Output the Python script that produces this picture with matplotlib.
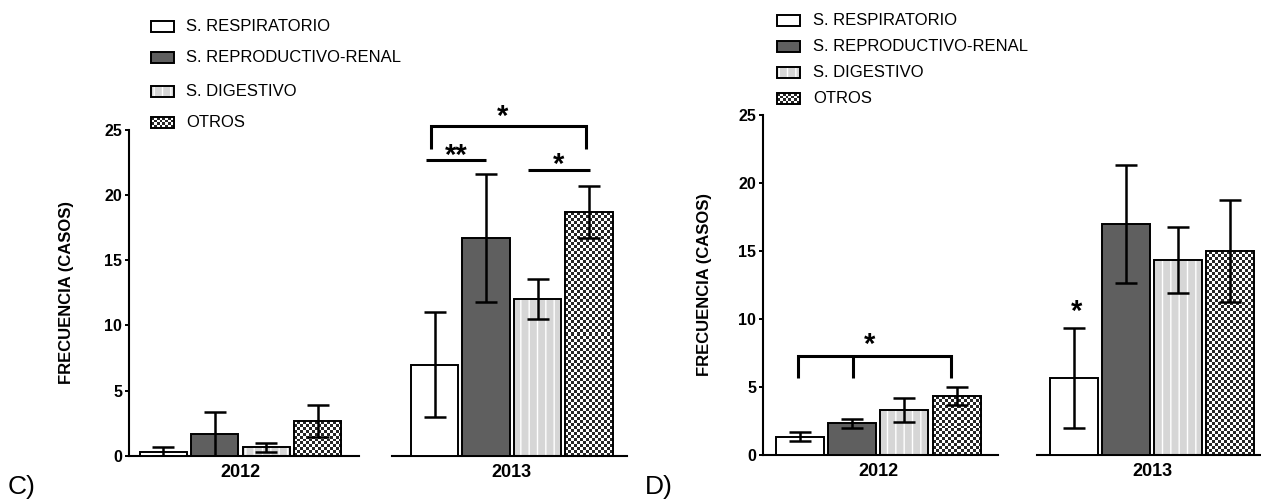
import numpy as np
import matplotlib
matplotlib.use('Agg')
import matplotlib.pyplot as plt
from matplotlib.patches import Rectangle
from matplotlib.colors import ListedColormap
from matplotlib import transforms

plt.rcParams['font.family'] = ['Liberation Sans', 'DejaVu Sans']

W, H = 1261, 501

# datos (media y error)
categorias = ['S. RESPIRATORIO', 'S. REPRODUCTIVO-RENAL', 'S. DIGESTIVO', 'OTROS']
anios = ['2012', '2013']

c_2012 = [0.33, 1.67, 0.67, 2.67]
c_2012_err = [0.33, 1.67, 0.33, 1.2]
c_2013 = [7.0, 16.7, 12.0, 18.67]
c_2013_err = [4.0, 4.9, 1.53, 2.0]

d_2012 = [1.33, 2.33, 3.33, 4.33]
d_2012_err = [0.33, 0.33, 0.88, 0.67]
d_2013 = [5.67, 17.0, 14.33, 15.0]
d_2013_err = [3.67, 4.33, 2.4, 3.77]

yticks = [0, 5, 10, 15, 20, 25]

colores = ['white', '#5f5f5f', '#d6d6d6', 'white']
cmap_cuadros = ListedColormap(['#262626', '#ffffff'])
ANCHO = 0.92

fig = plt.figure(figsize=(W / 100, H / 100), dpi=100)


def ejes(x0, x1, ytop, ybot):
    return fig.add_axes([x0 / W, 1 - ybot / H, (x1 - x0) / W, (ybot - ytop) / H])


def cuadros(ax, x0, x1, y0, y1, celda=3.0, z=2):
    p0 = ax.transData.transform((x0, y0))
    p1 = ax.transData.transform((x1, y1))
    nx = max(1, int(round(abs(p1[0] - p0[0]) / celda)))
    ny = max(1, int(round(abs(p1[1] - p0[1]) / celda)))
    arr = np.add.outer(np.arange(ny), np.arange(nx)) % 2
    ax.imshow(arr, cmap=cmap_cuadros, extent=(x0, x1, y0, y1), origin='lower',
              interpolation='nearest', aspect='auto', zorder=z)


def barras(ax, medias, errores, xlim, etiqueta, eje_y):
    ax.set_xlim(*xlim)
    ax.set_ylim(0, 25)
    x = np.arange(len(medias))
    for i, m in enumerate(medias):
        if i == 3:
            cuadros(ax, x[i] - ANCHO / 2, x[i] + ANCHO / 2, 0, m)
            ax.bar(x[i], m, ANCHO, fill=False, edgecolor='black', lw=1.4, zorder=3)
        elif i == 2:
            ax.bar(x[i], m, ANCHO, color=colores[i], edgecolor='white', hatch='||', lw=0, zorder=2)
            ax.bar(x[i], m, ANCHO, fill=False, edgecolor='black', lw=1.4, zorder=3)
        else:
            ax.bar(x[i], m, ANCHO, color=colores[i], edgecolor='black', lw=1.4, zorder=3)
    ax.errorbar(x, medias, yerr=errores, fmt='none', ecolor='black', elinewidth=1.8,
                capsize=8, capthick=1.8, zorder=5)
    ax.set_xlim(*xlim)
    ax.set_ylim(0, 25)
    for s in ['top', 'right']:
        ax.spines[s].set_visible(False)
    ax.spines['bottom'].set_linewidth(1.5)
    ax.set_xticks([1.5])
    ax.set_xticklabels([etiqueta], fontsize=13, fontweight='bold')
    ax.tick_params(axis='x', length=0, pad=6)
    if eje_y:
        ax.spines['left'].set_linewidth(1.5)
        ax.set_yticks(yticks)
        ax.set_yticklabels([str(v) for v in yticks], fontsize=11.5, fontweight='bold')
        ax.tick_params(axis='y', length=3, width=1.4, pad=2)
    else:
        ax.spines['left'].set_visible(False)
        ax.set_yticks([])
    ax.set_facecolor('none')


def linea(ax, xs, ys):
    ax.plot(xs, ys, color='black', lw=2.2, clip_on=False, solid_capstyle='butt',
            solid_joinstyle='miter', zorder=6)


def estrella(ax, x, y, texto='*'):
    tr = transforms.offset_copy(ax.transData, fig=fig, y=-7, units='dots')
    ax.text(x, y, texto, transform=tr, ha='center', va='center', fontsize=21,
            fontweight='bold', clip_on=False, zorder=6)


# Panel C
axc1 = ejes(129, 359, 129.7, 456)
axc2 = ejes(391.7, 626.7, 129.7, 456)
barras(axc1, c_2012, c_2012_err, (-0.666, 3.8), anios[0], True)
barras(axc2, c_2013, c_2013_err, (-0.835, 3.73), anios[1], False)

linea(axc2, [-0.08, -0.08, 2.94, 2.94], [23.5, 25.25, 25.25, 23.5])
estrella(axc2, 1.32, 26.5)
linea(axc2, [-0.16, 1.0], [22.65, 22.65])
estrella(axc2, 0.42, 23.5, '**')
linea(axc2, [1.81, 3.02], [21.9, 21.9])
estrella(axc2, 2.4, 22.8)

# Panel D
axd1 = ejes(763.3, 998.3, 115, 455)
axd2 = ejes(1036.7, 1272, 115, 455)
barras(axd1, d_2012, d_2012_err, (-0.70, 3.80), anios[0], True)
barras(axd2, d_2013, d_2013_err, (-0.72, 3.80), anios[1], False)

linea(axd1, [-0.03, -0.03, 2.89, 2.89], [5.64, 7.3, 7.3, 5.64])
linea(axd1, [1.02, 1.02], [7.3, 5.64])
estrella(axd1, 1.34, 8.6)
estrella(axd2, 0.05, 11.0)

# etiquetas de eje y letras de panel
fig.text(67 / W, 1 - 292.5 / H, 'FRECUENCIA (CASOS)', rotation=90, ha='center', va='center',
         fontsize=12, fontweight='bold')
fig.text(704.6 / W, 1 - 285 / H, 'FRECUENCIA (CASOS)', rotation=90, ha='center', va='center',
         fontsize=12, fontweight='bold')
fig.text(8 / W, 1 - 487 / H, 'C)', ha='left', va='center', fontsize=19)
fig.text(645 / W, 1 - 487 / H, 'D)', ha='left', va='center', fontsize=19)

# leyendas
axl = fig.add_axes([0, 0, 1, 1], zorder=-1)
axl.set_xlim(0, W)
axl.set_ylim(H, 0)
axl.axis('off')


def leyenda(x0, filas):
    for i, yc in enumerate(filas):
        ya, yb = yc - 5.5, yc + 5.5
        if i == 3:
            axl.imshow(np.add.outer(np.arange(4), np.arange(8)) % 2, cmap=cmap_cuadros,
                       extent=(x0, x0 + 23, yb, ya), interpolation='nearest', aspect='auto')
            axl.add_patch(Rectangle((x0, ya), 23, 11, fill=False, edgecolor='black', lw=1.4))
        elif i == 2:
            axl.add_patch(Rectangle((x0, ya), 23, 11, facecolor=colores[i], edgecolor='white',
                                    hatch='||', lw=0))
            axl.add_patch(Rectangle((x0, ya), 23, 11, fill=False, edgecolor='black', lw=1.4))
        else:
            axl.add_patch(Rectangle((x0, ya), 23, 11, facecolor=colores[i], edgecolor='black', lw=1.4))
        axl.text(x0 + 35.5, yc, categorias[i], ha='left', va='center', fontsize=12)


leyenda(150.7, [26, 57.3, 91.7, 122.3])
leyenda(777.3, [20.7, 46.7, 72.3, 98.3])
axl.set_xlim(0, W)
axl.set_ylim(H, 0)

fig.savefig('out.png', dpi=100)
